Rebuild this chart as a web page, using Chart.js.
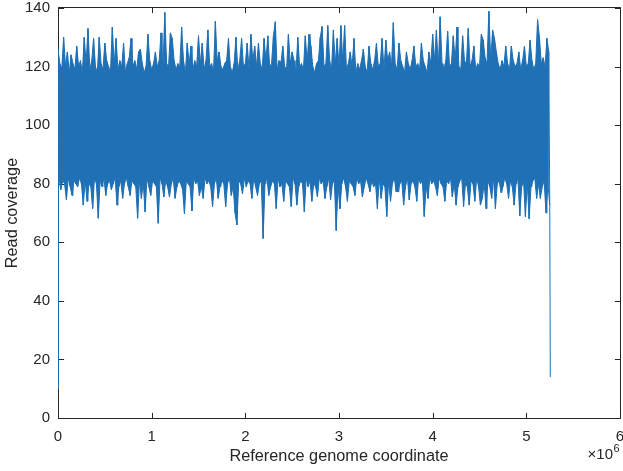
<!DOCTYPE html>
<html><head><meta charset="utf-8">
<script src="https://cdn.jsdelivr.net/npm/chart.js@4.4.1/dist/chart.umd.min.js"></script>
<style>html,body{margin:0;padding:0;background:#fff;}#wrap{width:623px;height:471px;}</style>
</head><body><div id="wrap"><canvas id="c" width="623" height="471"></canvas></div>
<script>
// ---- data ----
const binSize = 20000;            // genome bp per bin
const startCoverage = 10;         // coverage at coordinate 0
const endPosition = 5256000;      // last genome coordinate
const endCoverage = 14;           // coverage at last coordinate
const binHigh = [126,121,119,130,120,125,118,124,121,119,
127,120,122,118,130,121,133,119,122,129.6,
120,118,130,121,119,128,122,120,118,133.5,
121,129.6,119,122,120,128,118,121,123,129.6,
120,122,119,125,126,121,118,120,131,122,
119,121,125,120,122,131.5,119,138.5,121,120,
131.5,129.6,122,119,121,120,133.5,122,118,128,
121,127,119,122,120,130.5,121,128,119,122,
132.5,120,121,118,135.5,122,125,120,119,121,
122,129.6,120,118,121,130,119,122,129.6,120,
121,128,119,131,122,127,120,128,121,119,
129.6,122,130.5,120,121,130.5,135.3,119,122,121,
127,120,119,131,121,125,122,118,130,120,
121,119,130.5,122,131,127,120,118,121,122,
130,133.7,120,121,134,122,119,132.5,121,129.6,
120,134,122,134,119,121,125,120,129.6,118,
121,119,122,126,120,118,127,121,119,122,
128,120,121,129.6,119,129,122,125,120,135,
121,119,128,122,120,118,125,121,119,122,
127,120,121,119,128,122,120,118,125,121,
131,122,132.5,120,137,121,119,122,132,120,
121,130.5,122,133.5,120,119,130.5,122,121,133,
120,122,127,119,121,120,131,129,123,121,
138.9,122,132.5,129.6,125,121,119,122,120,127,
121,119,127,122,120,121,125,119,122,127,
120,121,129,122,119,121,136,130,121,123,
120,129.6,125];
const binLow = [82,78,81,80,74.5,82,79,76,81,80,
79,82,80,72.7,81,74,80,79,71.5,82,
80,68.2,81,79,82,76,80,81,78,80,
82,72.7,79,81,75,80,82,79,76,81,
80,79,68.2,81,75,80,70.4,82,79,76,
81,80,79,66.5,82,80,75.5,81,79,75.5,
80,82,75,79,81,80,78,69.7,81,80,
79,70.8,82,80,81,76,79,75,82,80,
81,79,72.2,80,82,75,79,81,80,72.2,
80,82,76,79,70,65.9,81,80,76.5,82,
79,81,80,75,82,79,76,80,81,61.3,
80,82,76,79,81,80,71.5,82,79,80,
74,81,80,79,72.2,82,80,72.7,79,81,
80,70.4,82,79,81,74,80,79,75.5,82,
80,81,75,79,82,74.5,80,81,64,79,
71.5,80,82,79,74,81,80,79,76,82,
80,81,75.5,79,82,80,77.3,81,79,80,
71.5,82,75,80,79,68.8,81,74,80,82,
77.3,77.3,80,81,72.7,79,82,74.5,80,81,
79,74,82,80,81,68.8,79,75,82,80,
81,79,76,82,80,79,74,81,80,82,
75.5,80,72.7,79,81,82,72.2,80,79,72.7,
81,80,74,82,79,72.7,75,80,71.5,81,
79,75,82,71.5,80,81,77,79,82,80,
75,81,79,72.7,80,82,69,79,81,68.8,
80,68,79,81,82,75,80,75,79,81,
70,80,72.7];
const xTickValues = [0,1000000,2000000,3000000,4000000,5000000,6000000];
const xTickLabels = ['0','1','2','3','4','5','6'];
const yTickValues = [0,20,40,60,80,100,120,140];
const yTickLabels = ['0','20','40','60','80','100','120','140'];
const xTitle = 'Reference genome coordinate';
const yTitle = 'Read coverage';
const xExponentBase = '\u00d710';
const xExponent = '6';

// ---- build line points ----
const upper = binHigh.map((v, i) => ({x: i * binSize, y: v}));
const lower = binLow.map((v, i) => ({x: i * binSize + binSize / 2, y: v}));
const points = [{x: 0, y: startCoverage}];
for (let i = 0; i < binHigh.length; i++) {
  points.push(upper[i]);
  points.push(lower[i]);
}
points.push({x: endPosition, y: endCoverage});

const AX = '#262626';
const BLUE = '#1f70b5';
const FONT = 'Liberation Sans, Arial, Helvetica, sans-serif';

const boxPlugin = {
  id: 'box',
  beforeDatasetsDraw(chart) {
    const {ctx, chartArea: a, scales: {x, y}} = chart;
    const L = Math.floor(a.left) + 0.5, R = Math.floor(a.right) + 0.5;
    const T = Math.floor(a.top) - 0.5, B = Math.floor(a.bottom) + 0.5;
    const tl = 5.6;
    ctx.save();
    ctx.strokeStyle = AX; ctx.lineWidth = 1;
    ctx.beginPath();
    ctx.moveTo(L, T); ctx.lineTo(R, T); ctx.lineTo(R, B); ctx.lineTo(L, B); ctx.closePath();
    xTickValues.forEach(v => {
      const px = Math.round(x.getPixelForValue(v)) + 0.5;
      ctx.moveTo(px, B); ctx.lineTo(px, B - tl);
      ctx.moveTo(px, T); ctx.lineTo(px, T + tl);
    });
    yTickValues.forEach(v => {
      const py = Math.round(y.getPixelForValue(v)) + 0.5;
      ctx.moveTo(L, py); ctx.lineTo(L + tl, py);
      ctx.moveTo(R, py); ctx.lineTo(R - tl, py);
    });
    ctx.stroke();
    ctx.restore();
  },
  afterDraw(chart) {
    const {ctx} = chart;
    ctx.save();
    ctx.fillStyle = AX;
    ctx.textBaseline = 'alphabetic';
    ctx.font = '15px ' + FONT;
    ctx.textAlign = 'right';
    ctx.fillText(xExponentBase, 613, 459);
    ctx.font = '11px ' + FONT;
    ctx.textAlign = 'left';
    ctx.fillText(xExponent, 613.5, 452);
    ctx.restore();
  }
};

new Chart(document.getElementById('c'), {
  type: 'line',
  data: {
    datasets: [
      {data: upper, borderColor: BLUE, backgroundColor: BLUE, borderWidth: 1, pointRadius: 0, fill: '+1', tension: 0},
      {data: lower, borderColor: BLUE, borderWidth: 1, pointRadius: 0, fill: false, tension: 0},
      {data: points, borderColor: BLUE, borderWidth: 1, pointRadius: 0, fill: false, tension: 0}
    ]
  },
  options: {
    responsive: false,
    animation: false,
    parsing: false,
    normalized: true,
    events: [],
    layout: {padding: {top: 8, right: 3, bottom: 0, left: 0}},
    plugins: {legend: {display: false}, tooltip: {enabled: false}},
    scales: {
      x: {
        type: 'linear', min: 0, max: 6000000,
        afterBuildTicks: s => { s.ticks = xTickValues.map(v => ({value: v})); },
        afterFit: s => { s.height = 53; s.paddingLeft = 0; s.paddingRight = 0; },
        grid: {display: false, drawTicks: false},
        border: {display: false},
        ticks: {
          callback: (v, i) => xTickLabels[i],
          color: AX, font: {family: FONT, size: 15}, padding: 10,
          maxRotation: 0, autoSkip: false
        },
        title: {display: true, text: xTitle, color: AX, font: {family: FONT, size: 16.3}, padding: {top: 0, bottom: 4.8}}
      },
      y: {
        type: 'linear', min: 0, max: 140,
        afterBuildTicks: s => { s.ticks = yTickValues.map(v => ({value: v})); },
        afterFit: s => { s.width = 58; s.paddingTop = 0; s.paddingBottom = 0; },
        grid: {display: false, drawTicks: false},
        border: {display: false},
        ticks: {
          callback: (v, i) => yTickLabels[i],
          color: AX, font: {family: FONT, size: 15}, padding: 8, autoSkip: false
        },
        title: {display: true, text: yTitle, color: AX, font: {family: FONT, size: 16.3}, padding: {top: 2.9, bottom: 0}}
      }
    }
  },
  plugins: [boxPlugin]
});
</script>
</body></html>
